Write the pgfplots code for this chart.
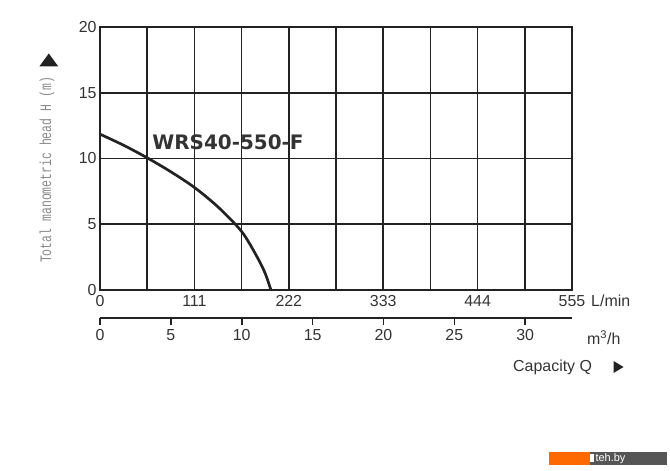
\documentclass[border=0pt]{standalone}
\usepackage{pgfplots}
\pgfplotsset{compat=1.18}
\usepackage{fontspec}
\setmainfont{Liberation Sans}
\newfontfamily\monofont{Liberation Mono}
\newfontfamily\titlefont{DejaVu Sans}

\definecolor{gridc}{HTML}{222222}
\definecolor{txt}{HTML}{333333}
\definecolor{ylab}{HTML}{8A8A8A}
\definecolor{wmorange}{HTML}{FF6A00}
\definecolor{wmgray}{HTML}{555555}

\begin{document}
\begin{tikzpicture}[x=1bp,y=1bp]
\useasboundingbox (-100,-181) rectangle (570,290);

% main chart: head vs. capacity in L/min
\begin{axis}[
    at={(0bp,0bp)}, anchor=south west,
    scale only axis, width=472bp, height=263bp,
    xmin=0, xmax=555, ymin=0, ymax=20,
    xtick={0,55.5,111,166.5,222,277.5,333,388.5,444,499.5,555},
    xticklabels={0,,111,,222,,333,,444,,555},
    ytick={0,5,10,15,20},
    grid=major,
    major grid style={line width=1.6bp, gridc},
    axis line style={line width=1.6bp, gridc},
    major tick length=0pt,
    tick label style={font=\fontsize{16}{16}\selectfont, text=txt},
    xticklabel style={yshift=-2bp},
    /pgf/number format/assume math mode=true,
    clip=false,
]
\addplot[smooth, line width=2.7bp, gridc] coordinates {
    (0,11.85) (28,11.0) (55.5,10.05) (83,9.0) (111,7.8)
    (139,6.3) (166.5,4.45) (184,2.6) (194,1.3) (201,0)
};
\end{axis}

% second scale: m3/h
\begin{axis}[
    at={(0bp,-28bp)}, anchor=south west,
    scale only axis, width=472bp, height=10bp,
    xmin=0, xmax=33.3, ymin=0, ymax=1,
    axis x line*=bottom, axis y line=none,
    xtick={0,5,...,30},
    tick align=outside, major tick length=7bp,
    axis line style={line width=1.6bp, gridc},
    tick style={line width=1.6bp, gridc},
    tick label style={font=\fontsize{16}{16}\selectfont, text=txt},
    xticklabel style={yshift=-1bp},
    /pgf/number format/assume math mode=true,
]
\addplot[draw=none] coordinates {(0,0)};
\end{axis}

\node[anchor=west, inner sep=0pt, font=\fontsize{16}{16}\selectfont, text=txt] at (491,-11) {L/min};
\node[anchor=west, inner sep=0pt, font=\fontsize{16}{16}\selectfont, text=txt] at (487,-48) {m\textsuperscript{3}/h};
\node[anchor=west, inner sep=0pt, font=\fontsize{16}{16}\selectfont, text=txt] at (413,-77) {Capacity Q};
\fill[gridc] (513.5,-71) -- (523.5,-77) -- (513.5,-83) -- cycle;

\node[rotate=90, text=ylab, font=\monofont\fontsize{16}{16}\selectfont] at (-53,120)
    {\scalebox{0.72}[1]{Total manometric head H (m)}};
\fill[gridc] (-60.7,223.5) -- (-41.7,223.5) -- (-51.2,236.5) -- cycle;

\node[text=txt, font=\titlefont\bfseries\fontsize{20}{20}\selectfont] at (128,148) {WRS40-550-F};

% watermark badge
\fill[wmorange] (449,-175) rectangle (490,-161.7);
\fill[wmgray] (490,-175) rectangle (567,-161.7);
\fill[white] (490,-172) rectangle (494,-164);
\node[text=white, font=\fontsize{11}{11}\selectfont] at (510.5,-168.3) {teh.by};
\end{tikzpicture}
\end{document}
